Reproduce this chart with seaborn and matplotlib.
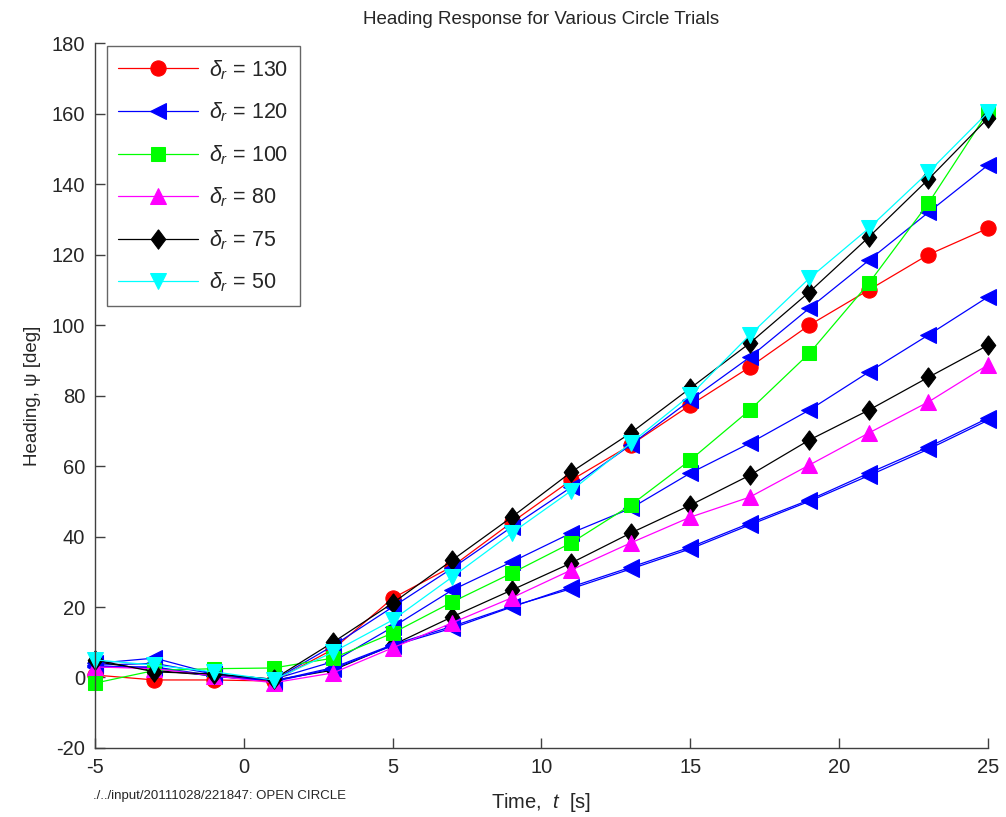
import matplotlib
matplotlib.use("Agg")
import matplotlib.pyplot as plt
import seaborn as sns
import numpy as np

# ---- data ----
t = [-5, -3, -1, 1, 3, 5, 7, 9, 11, 13, 15, 17, 19, 21, 23, 25]

red130 = [0.7, -0.7, -0.7, -1.0, 8.0, 22.5, 31.5, 44.0, 56.0, 66.0, 77.3, 88.1, 100.0, 110.0, 120.0, 127.5]
blue120 = [4.0, 5.5, 1.0, -0.8, 9.0, 20.0, 31.0, 42.7, 54.0, 66.0, 78.7, 90.9, 104.8, 118.4, 132.0, 145.4]
green100 = [-1.6, 2.0, 2.5, 2.7, 5.5, 12.6, 21.4, 29.6, 38.2, 48.9, 61.7, 75.9, 92.0, 111.9, 134.6, 160.5]
magenta80 = [3.0, 2.5, 0.5, -1.5, 1.3, 8.4, 15.5, 22.6, 30.5, 38.2, 45.5, 51.2, 60.3, 69.4, 78.2, 88.7]
black75 = [5.0, 1.6, 1.0, -0.5, 10.0, 21.1, 33.3, 45.5, 58.3, 69.4, 82.1, 94.9, 109.4, 125.0, 141.4, 158.7]
cyan50 = [5.0, 3.5, 1.6, -0.7, 7.2, 16.3, 28.5, 41.0, 53.0, 66.5, 80.1, 97.2, 113.3, 127.5, 143.4, 160.4]

# additional (unlabelled) trials
blue_b = [3.5, 4.0, 1.0, -0.5, 4.5, 14.3, 24.8, 32.8, 41.0, 48.0, 58.0, 66.5, 75.9, 86.7, 97.2, 108.0]
black_b = [4.5, 2.0, 0.5, -0.8, 2.1, 9.2, 17.2, 24.8, 32.5, 41.0, 48.9, 57.4, 67.4, 75.9, 85.2, 94.3]
blue_c = [3.0, 3.0, 0.5, -1.2, 2.5, 9.0, 14.0, 20.0, 25.7, 31.3, 37.0, 43.8, 50.4, 58.0, 65.4, 73.6]
blue_d = [3.2, 2.8, 0.3, -1.0, 2.8, 9.3, 14.5, 20.2, 25.2, 30.8, 36.5, 43.3, 50.0, 57.3, 64.8, 73.0]

labels = [r"$\delta_r$ = 130", r"$\delta_r$ = 120", r"$\delta_r$ = 100",
          r"$\delta_r$ = 80", r"$\delta_r$ = 75", r"$\delta_r$ = 50"]

sns.set_style("white")
plt.rcParams['font.family'] = ['Liberation Sans', 'DejaVu Sans']
plt.rcParams['mathtext.fontset'] = 'custom'
plt.rcParams['mathtext.rm'] = 'Liberation Sans'
plt.rcParams['mathtext.it'] = 'Liberation Sans:italic'
plt.rcParams['axes.unicode_minus'] = False

fig = plt.figure(figsize=(10.06, 8.17), dpi=100)
ax = fig.add_axes([0.0944, 0.0845, 0.8876, 0.8625])

RED, BLUE, GREEN, MAG, BLK, CYN = '#ff0000', '#0000ff', '#00ff00', '#ff00ff', '#000000', '#00ffff'
LW = 0.9
DIAM = [(0, 1), (0.75, 0), (0, -1), (-0.75, 0), (0, 1)]

series = [
    (red130, RED, 'o', 11, labels[0]),
    (blue120, BLUE, '<', 12, labels[1]),
    (green100, GREEN, 's', 9.5, labels[2]),
    (magenta80, MAG, '^', 12, labels[3]),
    (black75, BLK, DIAM, 14, labels[4]),
    (cyan50, CYN, 'v', 12, labels[5]),
    (blue_b, BLUE, '<', 12, None),
    (black_b, BLK, DIAM, 14, None),
    (blue_c, BLUE, '<', 12, None),
    (blue_d, BLUE, '<', 12, None),
]

for vals, col, mk, ms, lab in series[6:]:
    sns.lineplot(x=t, y=vals, color=col, marker=mk, markersize=ms, markeredgecolor=col,
                 markerfacecolor=col, linewidth=LW, ax=ax, legend=False, clip_on=False)
for vals, col, mk, ms, lab in series[:6]:
    sns.lineplot(x=t, y=vals, color=col, marker=mk, markersize=ms, markeredgecolor=col,
                 markerfacecolor=col, linewidth=LW, ax=ax, label=lab, clip_on=False)

ax.set_xlim(-5, 25)
ax.set_ylim(-20, 180)
ax.set_xticks([-5, 0, 5, 10, 15, 20, 25])
ax.set_yticks(np.arange(-20, 181, 20))

for s in ['top', 'right']:
    ax.spines[s].set_visible(False)
for s in ['left', 'bottom']:
    ax.spines[s].set_color('#404040')
    ax.spines[s].set_linewidth(1.0)

ax.tick_params(direction='in', length=7, width=1.0, color='#404040',
               labelsize=14.5, pad=7, left=True, bottom=True)

ax.set_title("Heading Response for Various Circle Trials", fontsize=13.5, pad=14)
ax.set_xlabel(r"Time,  $t$  [s]", fontsize=14.5, labelpad=10)
ax.set_ylabel("Heading, ψ [deg]", fontsize=13.5, labelpad=8)

leg = ax.legend(loc='upper left', bbox_to_anchor=(0.013, 0.996), fontsize=15.5,
                frameon=True, fancybox=False, edgecolor='#404040',
                handlelength=3.7, labelspacing=0.88, borderpad=0.55,
                handletextpad=0.5, borderaxespad=0.0)
leg.get_frame().set_linewidth(1.0)

fig.text(0.0925, 0.018, "./../input/20111028/221847: OPEN CIRCLE", fontsize=9.5,
         ha='left', va='bottom', family=['Liberation Sans Narrow', 'Liberation Sans', 'DejaVu Sans'])

fig.savefig("out.png", dpi=100)
